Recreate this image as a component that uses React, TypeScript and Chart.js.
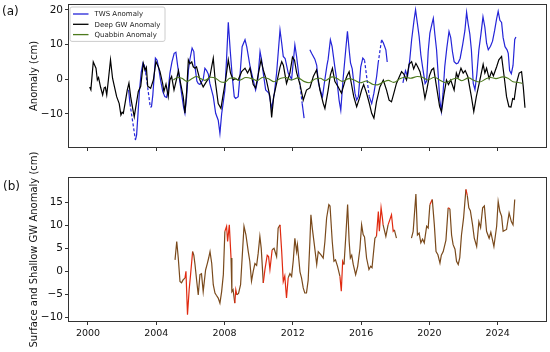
import React, { useEffect, useRef } from 'react';
import { Chart, registerables } from 'chart.js';

Chart.register(...registerables);

const FONT = '"DejaVu Sans", "Liberation Sans", sans-serif';

// ---------- DATA ----------
const xTicks = [2000, 2004, 2008, 2012, 2016, 2020, 2024];
const topYTicks = [-10, 0, 10, 20];
const bottomYTicks = [-10, -5, 0, 5, 10, 15];
const xRange = [1998.83, 2026.89];
const topYRange = [-19.8, 21.7];
const bottomYRange = [-11, 20.5];

// TWS anomaly (null = missing month, bridged with a dashed line)
const twsYears = [
  2002.38, 2002.46, 2002.6, 2002.78, 2002.85, 2002.93, 2003.02, 2003.12, 2003.22, 2003.3, 2003.38, 2003.5,
  2003.65, 2003.72, 2003.8, 2003.88, 2003.95, 2004.05, 2004.15, 2004.25, 2004.38, 2004.5, 2004.6, 2004.7,
  2004.8, 2004.92, 2005.05, 2005.15, 2005.25, 2005.35, 2005.48, 2005.6, 2005.68, 2005.78, 2005.88, 2005.98,
  2006.1, 2006.2, 2006.27, 2006.38, 2006.46, 2006.56, 2006.75, 2006.85, 2006.95, 2007.05, 2007.14, 2007.34,
  2007.48, 2007.63, 2007.73, 2007.83, 2008.02, 2008.12, 2008.22, 2008.33, 2008.45, 2008.57, 2008.65, 2008.8,
  2008.9, 2009.03, 2009.2, 2009.3, 2009.5, 2009.68, 2009.82, 2009.95, 2010.08, 2010.17, 2010.27, 2010.41,
  2010.6, 2010.76, 2010.92, 2011.05, 2011.25, 2011.35, 2011.44, 2011.55, 2011.73, 2011.93, 2012.12, 2012.22,
  2012.36, 2012.45, 2012.55, 2012.66,
  2013.0, 2013.1, 2013.29, 2013.4, 2013.5, 2013.6, 2013.74, 2013.85, 2014.0, 2014.07, 2014.2, 2014.3,
  2014.46, 2014.6, 2014.71, 2014.81, 2014.94, 2015.1, 2015.2, 2015.3, 2015.38, 2015.48, 2015.64, 2015.74,
  2015.84, 2015.98, 2016.1, 2016.2, 2016.32, 2016.48, 2016.62, 2016.75, 2016.91, 2017.0, 2017.1, 2017.2,
  2017.3, 2017.45, 2017.53,
  2018.45, 2018.6, 2018.72, 2018.85, 2018.96, 2019.1, 2019.19, 2019.3, 2019.4, 2019.5, 2019.6, 2019.75,
  2019.84, 2019.93, 2020.03, 2020.15, 2020.23, 2020.32, 2020.42, 2020.52, 2020.61, 2020.7, 2020.8, 2020.9,
  2021.02, 2021.15, 2021.25, 2021.35, 2021.45, 2021.58, 2021.68, 2021.8, 2021.95, 2022.08, 2022.18, 2022.27,
  2022.37, 2022.46, 2022.57, 2022.67, 2022.78, 2022.9, 2023.02, 2023.14, 2023.25, 2023.35, 2023.45, 2023.58,
  2023.7, 2023.82, 2023.94, 2024.03, 2024.13, 2024.23, 2024.32, 2024.43, 2024.55, 2024.62, 2024.7, 2024.8,
  2024.9, 2025.0, 2025.07,
];
const twsValues = [
  -3, -7, null, -17.5, -16, -10, -3, 2, 4.7, 4, 2, null,
  -8, -7.9, -4.5, 1, 6.1, 5.5, 3, -0.2, -3.5, -5, -5.2, -3,
  1.8, 5, 7.5, 7.8, 4, 0.5, -4, -8, -9.8, -5, 2.5, 6,
  9, 8, 3.6, -0.5, -1.2, -1.5, 0, 3.2, 2.5, 1.5, -1.2, -5,
  -9.8, -11.8, -15.6, -10, -3.2, 6, 16.4, 8.5, 0.8, -5, -5.5, -5,
  0.8, 9.4, 11.4, 9.4, 3.6, -0.2, -3.1, 0, 8, 5.6, 1.8, -3.1,
  -4, -8.4, -4, 1.8, 14.2, 10.4, 6.6, 6, 1.8, 0, 9.9, 6.6,
  0.8, null, -7, -11.2,
  8.5, 7.5, 5.8, 4, -1, -3, -5, -1, 4, 5.8, 11.4, 9.5,
  3.6, -1, -6, -8.9, -0.2, 8.5, 13.8, 8.5, 4.7, 3, -4, -6,
  -5, 3.6, 6.1, 5.5, null, -5, -7, -4, 0.8, 4.7, null, 11.4,
  10.5, 8.5, 5,
  -1, 2.5, 0.8, 5.6, 11.4, 17, 20, 16, 12.3, 7, 3.6, -1.2,
  -0.5, 8, 13.3, 16, 17.6, 13, 8.5, 1, -6, -9.2, -4, 3.6,
  9, 13.8, 12, 8, 5.1, 4.5, 4.7, 6, 10, 14, 19.3, 16,
  13, 8.5, -1.2, -3, 1.5, 8.5, 13, 18, 15, 10.4, 8.5, 9.5,
  11, 14, 17.5, 19.6, 17, 16.4, 12, 9.4, 8.5, 7.5, 2.5, 1.6,
  4, 11.5, 12.2,
];

// Deep groundwater anomaly
const deepGwYears = [
  2000.1, 2000.17, 2000.31, 2000.4, 2000.47, 2000.55, 2000.62, 2000.74, 2000.86, 2000.95, 2001.02, 2001.1,
  2001.2, 2001.32, 2001.44, 2001.54, 2001.68, 2001.83, 2001.93, 2002.0, 2002.07, 2002.17, 2002.3, 2002.4,
  2002.5, 2002.6, 2002.71, 2002.8, 2002.95, 2003.09, 2003.24, 2003.34, 2003.42, 2003.5, 2003.67, 2003.83,
  2003.98, 2004.12, 2004.22, 2004.37, 2004.45, 2004.57, 2004.7, 2004.8, 2004.9, 2005.04, 2005.2, 2005.3,
  2005.42, 2005.58, 2005.68, 2005.78, 2005.88, 2005.97, 2006.08, 2006.17, 2006.27, 2006.36, 2006.56, 2006.75,
  2006.95, 2007.14, 2007.34, 2007.45, 2007.63, 2007.79, 2007.9, 2008.06, 2008.22, 2008.35, 2008.51, 2008.62,
  2008.8, 2009.0, 2009.2, 2009.35, 2009.49, 2009.68, 2009.82, 2009.95, 2010.14, 2010.27, 2010.45, 2010.66,
  2010.76, 2010.88, 2011.05, 2011.25, 2011.35, 2011.45, 2011.63, 2011.83, 2011.98, 2012.1, 2012.22, 2012.42,
  2012.61, 2012.8, 2013.0, 2013.2, 2013.39, 2013.59, 2013.78, 2013.88, 2014.07, 2014.2, 2014.32, 2014.46,
  2014.66, 2014.85, 2015.05, 2015.18, 2015.3, 2015.44, 2015.57, 2015.74, 2015.9, 2016.03, 2016.15, 2016.32,
  2016.48, 2016.62, 2016.75, 2016.9, 2017.1, 2017.3, 2017.49, 2017.64, 2017.78, 2017.92, 2018.07, 2018.22,
  2018.37, 2018.5, 2018.66, 2018.81, 2018.96, 2019.08, 2019.21, 2019.33, 2019.45, 2019.6, 2019.74, 2019.85,
  2020.0, 2020.13, 2020.25, 2020.42, 2020.6, 2020.71, 2020.85, 2021.0, 2021.12, 2021.25, 2021.45, 2021.58,
  2021.68, 2021.85, 2021.98, 2022.1, 2022.25, 2022.46, 2022.6, 2022.75, 2022.96, 2023.15, 2023.25, 2023.35,
  2023.5, 2023.64, 2023.75, 2023.94, 2024.07, 2024.23, 2024.38, 2024.52, 2024.66, 2024.78, 2024.88, 2024.97,
  2025.1, 2025.26, 2025.4, 2025.5, 2025.6,
];
const deepGwValues = [
  -2.2, -3, 5, 4, 3.2, -0.2, 0.5, -2.3, -4.5, -2.5, -2.3, -4.5,
  0, 5.6, 0.3, -1.9, -5, -7, -10.3, -9.5, -9.8, -7, -3.1, -1.1,
  -5, -7.9, -10.8, -8, -3.5, -2, 4.6, 2.7, 3.5, -2, -2.6, -0.2,
  5.1, 3.6, 2.2, -1.1, -3.5, -1.4, -5, -0.2, 0.8, -3.1, 0.3, 2.5,
  -1, -5, -9.8, -3.5, 5.6, 4.5, 5, 3.6, 3.2, 3.6, -0.2, -2.2,
  -0.6, 0.8, 6.1, -0.2, -7, -8.4, -5, -0.2, 5.6, 1.8, -0.2, 0.2,
  -0.2, 2.2, 3.2, 1.8, 3.2, -1.5, -2.5, 0.8, 5.6, 2.7, -0.2, -5,
  -11, -5, -1.2, 3.5, 5.1, 4, -1.2, 1.8, 6.4, 5.5, 2, -1.5,
  -6, -3.1, -2.5, 0.8, 2.7, -3.1, -6.9, -8.4, -3.1, 1.3, 3.2, -0.6,
  -2.2, -4, -0.6, 1, 2.2, -1.5, -5, -7.9, -5.5, -3.1, -1.5, -4,
  -6.9, -9.8, -11.2, -6.5, -2.2, -0.2, -3.1, -6, -6.5, -4, -1.2, 0.5,
  2.2, 1.5, -0.2, 4.3, 5.1, 3, 4.6, 3.5, 2.2, -1.2, -5.5, -3,
  1, 2.7, 3.2, -2.2, -7.9, -9.3, -4.5, -0.2, -1.5, -0.2, -3.1, 1.8,
  0.5, 3.2, 1.8, 2.5, 0.8, -5, -9.3, -5, -0.2, 4.3, 1.8, 3.2,
  0.2, 2.2, 1, 3.6, 5.6, 6.6, 0.8, -5, -7.9, -8, -5.6, -5.8,
  -1.2, 1.8, 2.2, -2.2, -8.2,
];

// Quabbin reservoir anomaly
const quabbinYears = [
  2005.0, 2005.25, 2005.5, 2005.8, 2006.1, 2006.35, 2006.6, 2006.85, 2007.2, 2007.45, 2007.8, 2008.0,
  2008.3, 2008.55, 2008.85, 2009.25, 2009.6, 2009.9, 2010.25, 2010.6, 2010.9, 2011.3, 2011.6, 2011.9,
  2012.3, 2012.65, 2012.95, 2013.3, 2013.6, 2013.9, 2014.3, 2014.6, 2014.9, 2015.3, 2015.6, 2015.95,
  2016.3, 2016.7, 2016.95, 2017.3, 2017.6, 2017.9, 2018.3, 2018.6, 2018.9, 2019.3, 2019.6, 2019.9,
  2020.3, 2020.6, 2020.95, 2021.3, 2021.6, 2021.9, 2022.3, 2022.6, 2022.95, 2023.3, 2023.6, 2023.9,
  2024.3, 2024.6, 2024.9, 2025.2, 2025.45,
];
const quabbinValues = [
  -0.2, 0.5, 0.3, -0.6, 0.2, 0.8, 0.2, -0.3, 0.6, 0.4, -0.8, -0.9,
  0.3, 0.4, -0.3, 0.5, 0.2, -0.4, 0.6, 0.1, -0.7, 0.3, 0.5, -0.2,
  0.4, -0.6, -1.0, 0.1, 0.3, -0.4, 0.7, 0.2, -0.6, 0.2, -0.2, -1.0,
  -0.5, -1.5, -1.6, -0.8, -0.3, -0.9, 0.2, 0.6, 0.3, 0.8, 0.6, -0.2,
  0.6, -0.2, -1.0, -0.1, 0.3, -0.4, 0.4, -0.3, -0.8, 0.1, 0.5, 0.2,
  0.7, 0.3, -0.7, -0.9, -1.2,
];

// Surface and shallow groundwater anomaly
const shallowYears = [
  2005.1, 2005.2, 2005.29, 2005.39, 2005.48, 2005.58, 2005.68, 2005.74, 2005.83, 2005.93, 2006.01, 2006.13,
  2006.2, 2006.27, 2006.37, 2006.46, 2006.56, 2006.65, 2006.75, 2006.89, 2006.99, 2007.07, 2007.15, 2007.25,
  2007.34, 2007.44, 2007.52, 2007.63, 2007.73, 2007.83, 2007.93, 2008.02, 2008.12, 2008.18, 2008.28, 2008.38,
  2008.43, 2008.5, 2008.6, 2008.66, 2008.72, 2008.82, 2008.94, 2009.02, 2009.14, 2009.25, 2009.39, 2009.48,
  2009.58, 2009.68, 2009.78, 2009.88, 2009.97, 2010.07, 2010.15, 2010.27, 2010.37, 2010.5, 2010.58, 2010.66,
  2010.79, 2010.9, 2011.05, 2011.14, 2011.25, 2011.35, 2011.44, 2011.53, 2011.63, 2011.73, 2011.83, 2011.93,
  2012.03, 2012.12, 2012.22, 2012.27, 2012.42, 2012.51, 2012.61, 2012.7, 2012.8, 2012.9, 2013.0, 2013.06,
  2013.14, 2013.26, 2013.4, 2013.49, 2013.65, 2013.78, 2013.88, 2013.98, 2014.11, 2014.18, 2014.31, 2014.41,
  2014.5, 2014.62, 2014.76, 2014.84, 2014.92, 2015.0, 2015.11, 2015.21, 2015.3, 2015.37, 2015.45, 2015.54,
  2015.68, 2015.8, 2015.93, 2016.03, 2016.12, 2016.2, 2016.32, 2016.46, 2016.56, 2016.64, 2016.81, 2016.9,
  2017.01, 2017.07, 2017.17, 2017.25, 2017.29, 2017.45, 2017.58, 2017.78, 2017.88, 2017.95, 2018.07,
  2018.95, 2019.05, 2019.21, 2019.3, 2019.4, 2019.5, 2019.6, 2019.7, 2019.84, 2019.93, 2020.03, 2020.17,
  2020.29, 2020.39, 2020.5, 2020.62, 2020.7, 2020.81, 2020.97, 2021.1, 2021.2, 2021.3, 2021.39, 2021.5,
  2021.59, 2021.69, 2021.78, 2021.88, 2022.0, 2022.14, 2022.22, 2022.31, 2022.4, 2022.53, 2022.63, 2022.77,
  2022.9, 2023.0, 2023.12, 2023.22, 2023.35, 2023.5, 2023.6, 2023.78, 2023.94, 2024.03, 2024.13, 2024.23,
  2024.32, 2024.52, 2024.67, 2024.8, 2024.9, 2025.0,
];
const shallowValues = [
  2.5, 6.5, 2.9, -2.2, -2.5, -1.8, -1.5, 0, -9.4, -3.9, -0.7, 4.3,
  3.5, 1.5, -2.1, -5.1, -0.7, -0.5, -4.4, 0.3, 1.7, 2.9, 4.3, 1.7,
  -2.9, -4.7, -5.2, -5.8, -6.9, -4.4, -0.7, 8.7, 9.8, 6.5, 10.1, 2.9,
  -4.4, -4.0, -6.9, -4.0, -5.1, -4.8, -2.9, 2.2, 9.8, 8.0, 4.3, 2.2,
  -2.1, 0, 1.7, 1.3, 3.9, 7.6, 5, -2.5, 0.5, 3.5, 3.2, 0.4,
  4.7, 5, 3.2, 9.4, 10.1, 4.2, -2.2, -1, -5.8, -1.4, -0.5, -1.1,
  2.5, 7.2, 4.3, 5.8, -0.1, -1.4, -3.6, -4.7, -4.7, -1.9, 6.5, 12.3,
  9.4, 5.8, 1.5, 4.3, 3.6, 2.9, 6.5, 11.6, 14.5, 14.2, 6.5, 2.2,
  2.5, 1.1, -1.1, -4.3, 2.2, 1.5, 8.0, 14.5, 6.5, 2.9, 3.5, 1.5,
  -0.7, 1.1, 4.9, 10.1, 8.0, 7.5, 2.9, 0.4, 1.1, 0.8, 7.2, 7.6,
  13, 8.7, 13.8, 11.5, 10.1, 7.6, 10.1, 12.3, 8.7, 9, 7.2,
  7.2, 8.7, 16.8, 7.9, 8.3, 6.2, 7, 6.2, 9.8, 9.4, 14.5, 15.6,
  10.1, 4.3, 3.6, 1.8, 3.5, 4.3, 6.8, 13.8, 13.6, 7.9, 5.8, 4.8,
  2.2, 1.5, 3, 7.9, 11.5, 17.8, 16.5, 13.8, 13.2, 10.1, 7.2, 5.4,
  10.8, 9.5, 13.8, 14.2, 8.7, 7.2, 8.5, 5.4, 9.8, 15.2, 13, 12,
  8.7, 9.1, 12.7, 10.8, 10.1, 15.6,
];
// stretches of the shallow series drawn in red (gap-filled months)
const shallowFilledRanges = [
  [2005.68, 2006.13], [2008.02, 2008.38], [2008.6, 2008.72], [2010.27, 2010.79], [2011.25, 2011.73],
  [2014.76, 2015.0], [2016.9, 2017.29], [2017.58, 2017.95], [2020.03, 2020.17], [2021.1, 2021.2],
  [2022.14, 2022.22],
];

// ---------- STYLES ----------
const BLUE = '#2424d8';
const BLACK = '#000000';
const GREEN = '#4d7a1e';
const BROWN = '#7a4a1c';
const RED = '#e02a10';
const AXIS = '#333333';
const MAX_JOIN = 0.5; // years: longer gaps are left unconnected

const pts = (xs: number[], ys: (number | null)[]) => xs.map((x, i) => ({ x, y: ys[i] }));
const fmt = (v: number) => (v < 0 ? '\u2212' + Math.abs(v) : String(v));
const bigGap = (c: any) => !c.p0.skip && !c.p1.skip && c.p1.parsed.x - c.p0.parsed.x > MAX_JOIN;

const framePlugin = {
  id: 'frame',
  afterDraw(chart: any) {
    const { ctx, chartArea: a } = chart;
    ctx.save();
    ctx.strokeStyle = AXIS;
    ctx.lineWidth = 1;
    ctx.strokeRect(Math.round(a.left) + 0.5, Math.round(a.top) + 0.5, Math.round(a.right - a.left) - 1, Math.round(a.bottom - a.top) - 1);
    ctx.restore();
  },
};

const legendPlugin = {
  id: 'mplLegend',
  afterDraw(chart: any) {
    const { ctx, chartArea: a } = chart;
    const items = chart.data.datasets;
    const x0 = a.left + 1.5, y0 = a.top + 2.5, w = 95, rowH = 10.3, h = rowH * items.length + 3.5;
    ctx.save();
    ctx.fillStyle = 'rgba(255,255,255,0.85)';
    ctx.strokeStyle = '#cccccc';
    ctx.lineWidth = 1;
    ctx.beginPath();
    if (ctx.roundRect) ctx.roundRect(x0 + 0.5, y0 + 0.5, w, h, 2); else ctx.rect(x0 + 0.5, y0 + 0.5, w, h);
    ctx.fill();
    ctx.stroke();
    ctx.font = '7px ' + FONT;
    ctx.textBaseline = 'middle';
    items.forEach((d: any, i: number) => {
      const y = y0 + 7.5 + i * rowH;
      ctx.strokeStyle = d.borderColor;
      ctx.lineWidth = 1.3;
      ctx.beginPath();
      ctx.moveTo(x0 + 3.5, y);
      ctx.lineTo(x0 + 19, y);
      ctx.stroke();
      ctx.fillStyle = '#222';
      ctx.fillText(d.label, x0 + 25, y + 0.5);
    });
    ctx.restore();
  },
};

const xScale = (showLabels: boolean, height: number) => ({
  type: 'linear',
  min: xRange[0],
  max: xRange[1],
  afterBuildTicks: (s: any) => { s.ticks = xTicks.map((v) => ({ value: v })); },
  afterFit: (s: any) => { s.height = height; s.paddingLeft = 0; s.paddingRight = 0; },
  ticks: {
    display: showLabels,
    autoSkip: false,
    maxRotation: 0,
    padding: 3,
    color: '#111',
    font: { family: FONT, size: 9.5 },
    callback: (v: any) => String(v),
  },
  grid: { display: true, drawOnChartArea: false, drawTicks: true, tickLength: 3, color: AXIS },
  border: { display: false },
});

const yScale = (range: number[], ticks: number[], title: string) => ({
  type: 'linear',
  min: range[0],
  max: range[1],
  afterBuildTicks: (s: any) => { s.ticks = ticks.map((v) => ({ value: v })); },
  afterFit: (s: any) => { s.width = 68; s.paddingTop = 0; s.paddingBottom = 0; },
  ticks: {
    autoSkip: false,
    padding: 2,
    color: '#111',
    font: { family: FONT, size: 10.5 },
    callback: (v: any) => fmt(Number(v)),
  },
  grid: { display: true, drawOnChartArea: false, drawTicks: true, tickLength: 3, color: AXIS },
  border: { display: false },
  title: {
    display: true,
    text: title,
    color: '#111',
    font: { family: FONT, size: 10 },
    padding: { top: 28, bottom: 0 },
  },
});

function TopChart() {
  const ref = useRef<HTMLCanvasElement>(null);
  useEffect(() => {
    const chart = new Chart(ref.current as HTMLCanvasElement, {
      type: 'line',
      data: {
        datasets: [
          {
            label: 'TWS Anomaly',
            data: pts(twsYears, twsValues),
            borderColor: BLUE,
            borderWidth: 1.2,
            pointRadius: 0,
            spanGaps: true,
            order: 3,
            segment: {
              borderDash: (c: any) => (c.p0.skip || c.p1.skip ? [3, 2] : undefined),
              borderColor: (c: any) => (bigGap(c) || (c.p1.parsed.x - c.p0.parsed.x > 0.3 && !c.p0.skip && !c.p1.skip) ? 'rgba(0,0,0,0)' : undefined),
            },
          },
          {
            label: 'Deep GW Anomaly',
            data: pts(deepGwYears, deepGwValues),
            borderColor: BLACK,
            borderWidth: 1.2,
            pointRadius: 0,
            order: 2,
          },
          {
            label: 'Quabbin Anomaly',
            data: pts(quabbinYears, quabbinValues),
            borderColor: GREEN,
            borderWidth: 1.1,
            pointRadius: 0,
            cubicInterpolationMode: 'monotone',
            order: 1,
          },
        ],
      } as any,
      options: {
        animation: false,
        responsive: false,
        events: [],
        layout: { padding: { left: 0, right: 3, top: 4, bottom: 0 } },
        plugins: { legend: { display: false }, tooltip: { enabled: false } },
        scales: {
          x: xScale(false, 17),
          y: yScale(topYRange, topYTicks, 'Anomaly (cm)'),
        } as any,
      },
      plugins: [framePlugin, legendPlugin],
    });
    return () => chart.destroy();
  }, []);
  return <canvas ref={ref} width={550} height={165} style={{ position: 'absolute', left: 0, top: 0, width: 550, height: 165 }} />;
}

function BottomChart() {
  const ref = useRef<HTMLCanvasElement>(null);
  useEffect(() => {
    const inFilled = (a: number, b: number) =>
      shallowFilledRanges.some(([s, e]) => a >= s - 1e-6 && b <= e + 1e-6);
    const chart = new Chart(ref.current as HTMLCanvasElement, {
      type: 'line',
      data: {
        datasets: [
          {
            label: 'Surface and Shallow GW Anomaly',
            data: pts(shallowYears, shallowValues),
            borderColor: BROWN,
            borderWidth: 1.2,
            pointRadius: 0,
            segment: {
              borderColor: (c: any) =>
                bigGap(c) ? 'rgba(0,0,0,0)' : inFilled(c.p0.parsed.x, c.p1.parsed.x) ? RED : undefined,
            },
          },
        ],
      } as any,
      options: {
        animation: false,
        responsive: false,
        events: [],
        layout: { padding: { left: 0, right: 3, top: 37, bottom: 0 } },
        plugins: { legend: { display: false }, tooltip: { enabled: false } },
        scales: {
          x: xScale(true, 30),
          y: yScale(bottomYRange, bottomYTicks, 'Surface and Shallow GW Anomaly (cm)'),
        } as any,
      },
      plugins: [framePlugin],
    });
    return () => chart.destroy();
  }, []);
  return <canvas ref={ref} width={550} height={212} style={{ position: 'absolute', left: 0, top: 140, width: 550, height: 212 }} />;
}

export default function App() {
  const panelLabel: React.CSSProperties = {
    position: 'absolute',
    fontFamily: FONT,
    fontSize: 12,
    lineHeight: '12px',
    color: '#111',
  };
  return (
    <div style={{ position: 'absolute', left: 0, top: 0, width: 550, height: 352, background: '#fff', overflow: 'hidden' }}>
      <TopChart />
      <BottomChart />
      <div style={{ ...panelLabel, left: 2, top: 5 }}>(a)</div>
      <div style={{ ...panelLabel, left: 3, top: 180 }}>(b)</div>
    </div>
  );
}
